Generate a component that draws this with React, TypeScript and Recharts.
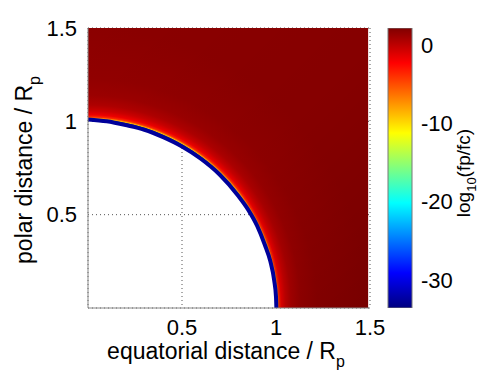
import React from 'react';
import {
  ComposedChart,
  Area,
  Line,
  XAxis,
  YAxis,
  CartesianGrid,
  BarChart,
  Bar,
} from 'recharts';

// planet rim (blue ring), equatorial vs polar distance in R_p
const rimX = [0, 0.1, 0.2, 0.3, 0.4, 0.5, 0.6, 0.7, 0.8, 0.85, 0.9, 0.94, 0.97, 0.99, 1.0, 1.002];
const rimY = [1.01, 1.0, 0.98, 0.955, 0.915, 0.865, 0.8, 0.715, 0.6, 0.53, 0.44, 0.34, 0.25, 0.15, 0.06, 0];
const fieldEndX = 1.49;
const fieldTopY = 1.5;

const axisTicks = [0, 0.5, 1, 1.5];
const cbTicks = [-30, -20, -10, 0];
const cbRange = [-33.6, 2.2];

const font = '"Liberation Sans", Arial, Helvetica, sans-serif';

const rimData = rimX.map((x, i) => ({ x, y: rimY[i] }));
const fieldData = [
  ...rimData.map((d) => ({ ...d, top: fieldTopY })),
  { x: fieldEndX, y: 0, top: fieldTopY },
];
const cbData = [{ k: 'cb', v: cbRange }];

function XTitle({ viewBox }: any) {
  const { x, y, width } = viewBox;
  return (
    <text x={x + width / 2 - 3} y={y + 51} textAnchor="middle" fontSize={23} fontFamily={font} fill="#000">
      equatorial distance / R<tspan dy={8} fontSize={16}>p</tspan>
    </text>
  );
}

function YTitle({ viewBox }: any) {
  const { y, height } = viewBox;
  const cx = 32;
  const cy = y + height / 2 + 2;
  return (
    <text
      x={cx}
      y={cy}
      transform={`rotate(-90, ${cx}, ${cy})`}
      textAnchor="middle"
      fontSize={23}
      fontFamily={font}
      fill="#000"
    >
      polar distance / R<tspan dy={8} fontSize={16}>p</tspan>
    </text>
  );
}

function CbTitle({ viewBox }: any) {
  const { x, y, height } = viewBox;
  const cx = x + 58;
  const cy = y + height / 2 + 5;
  return (
    <text
      x={cx}
      y={cy}
      transform={`rotate(-90, ${cx}, ${cy})`}
      textAnchor="middle"
      fontSize={19}
      fontFamily={font}
      fill="#000"
    >
      log<tspan dy={6} fontSize={13}>10</tspan>
      <tspan dy={-6}>(fp/fc)</tspan>
    </text>
  );
}

const tickStyle = { fontSize: 22, fill: '#000', fontFamily: font };

export default function App() {
  return (
    <div style={{ position: 'absolute', left: 0, top: 0, width: 498, height: 376, background: '#fff' }}>
      <ComposedChart width={498} height={376} margin={{ top: 28, right: 128, bottom: 0, left: 0 }}>
        <defs>
          <radialGradient id="glow" cx="0" cy="1" r="1" fx="0" fy="1">
            <stop offset="0.655" stopColor="#0000a0" />
            <stop offset="0.672" stopColor="#0000a0" />
            <stop offset="0.676" stopColor="#ffc000" />
            <stop offset="0.682" stopColor="#ff2a00" />
            <stop offset="0.69" stopColor="#f00000" />
            <stop offset="0.705" stopColor="#cc0000" />
            <stop offset="0.725" stopColor="#b00000" />
            <stop offset="0.76" stopColor="#9c0000" />
            <stop offset="0.82" stopColor="#920000" />
            <stop offset="1" stopColor="#8b0000" />
          </radialGradient>
          <linearGradient id="shade" x1="0" y1="0" x2="1" y2="1">
            <stop offset="0" stopColor="#000" stopOpacity={0} />
            <stop offset="0.55" stopColor="#000" stopOpacity={0.04} />
            <stop offset="1" stopColor="#000" stopOpacity={0.14} />
          </linearGradient>
        </defs>
        <CartesianGrid stroke="#555" strokeDasharray="1 3" />
        <XAxis
          type="number"
          dataKey="x"
          domain={[0, 1.5]}
          ticks={axisTicks}
          allowDataOverflow
          height={68}
          tickLine={false}
          tickMargin={5}
          axisLine={{ stroke: '#888' }}
          tick={tickStyle}
          tickFormatter={(v) => (v === 0 ? '' : String(v))}
          label={<XTitle />}
        />
        <YAxis
          type="number"
          domain={[0, 1.5]}
          ticks={axisTicks}
          allowDataOverflow
          width={88}
          tickLine={false}
          tickMargin={5}
          axisLine={{ stroke: '#888' }}
          tick={tickStyle}
          tickFormatter={(v) => (v === 0 ? '' : String(v))}
          label={<YTitle />}
        />
        <Area
          data={fieldData}
          dataKey={(d: any) => [d.y, d.top]}
          type="monotone"
          fill="url(#glow)"
          fillOpacity={1}
          stroke="none"
          isAnimationActive={false}
        />
        <Area
          data={fieldData}
          dataKey={(d: any) => [d.y, d.top]}
          type="monotone"
          fill="url(#shade)"
          fillOpacity={1}
          stroke="none"
          isAnimationActive={false}
        />
        <Line
          data={rimData}
          dataKey="y"
          type="monotone"
          stroke="#00009a"
          strokeWidth={4}
          dot={false}
          isAnimationActive={false}
        />
      </ComposedChart>

      <div style={{ position: 'absolute', left: 380, top: 0 }}>
        <BarChart
          width={110}
          height={376}
          data={cbData}
          margin={{ top: 28, right: 0, bottom: 68, left: 8 }}
          barCategoryGap={0}
        >
          <defs>
            <linearGradient id="jet" x1="0" y1="0" x2="0" y2="1">
              <stop offset="0" stopColor="#800000" />
              <stop offset="0.125" stopColor="#ff0000" />
              <stop offset="0.375" stopColor="#ffff00" />
              <stop offset="0.625" stopColor="#00ffff" />
              <stop offset="0.875" stopColor="#0000ff" />
              <stop offset="1" stopColor="#000080" />
            </linearGradient>
          </defs>
          <XAxis dataKey="k" hide height={0} />
          <YAxis
            orientation="right"
            type="number"
            domain={cbRange}
            ticks={cbTicks}
            allowDataOverflow
            width={78}
            tickLine={false}
            axisLine={false}
            tickMargin={3}
            tick={{ ...tickStyle, textAnchor: 'start' }}
            label={<CbTitle />}
          />
          <Bar dataKey="v" fill="url(#jet)" stroke="#777" isAnimationActive={false} />
        </BarChart>
      </div>
    </div>
  );
}
